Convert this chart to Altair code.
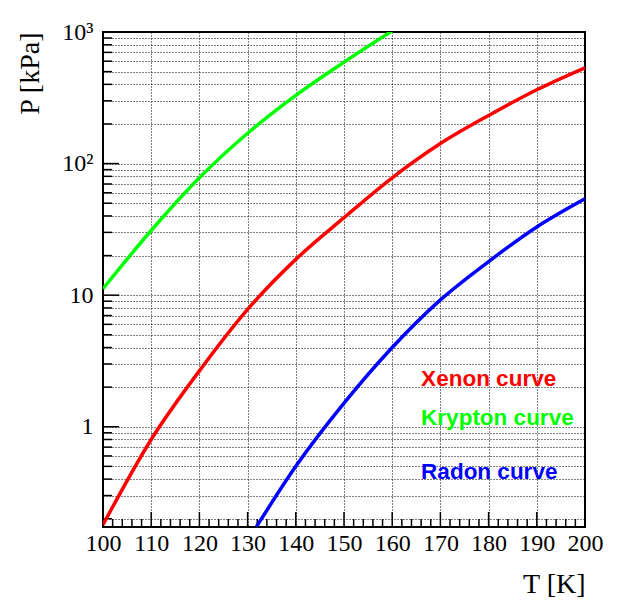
import altair as alt
import pandas as pd

# ---- data ----
T_xenon = [100, 110, 120, 130, 140, 150, 160, 170, 180, 190, 200]
P_xenon = [0.18, 0.80, 2.66, 7.8, 18.7, 38.8, 78, 142, 232, 364, 535]

T_krypton = [100, 110, 120, 130, 140, 150, 160]
P_krypton = [11.2, 31, 78, 170, 330, 590, 1020]

T_radon = [131.8, 140, 150, 160, 170, 180, 190, 200]
P_radon = [0.173, 0.50, 1.51, 4.0, 9.2, 18.0, 33, 54]

gases = ["Xenon", "Krypton", "Radon"]
gas_colors = ["#ff0000", "#00ff00", "#0000ff"]
label_texts = ["Xenon curve", "Krypton curve", "Radon curve"]
label_T = [166, 166, 166]
label_P = [2.30, 1.156, 0.455]

x_major = [100, 110, 120, 130, 140, 150, 160, 170, 180, 190, 200]
x_minor = [t for t in range(100, 201, 2) if t % 10 != 0]
y_major = [1, 10, 100, 1000]
y_minor = [m * d for d in [0.1, 1, 10, 100] for m in range(2, 10)]
y_grid = sorted(y_minor + y_major)

W, H = 482, 495

rows = []
for g, Ts, Ps in [("Xenon", T_xenon, P_xenon), ("Krypton", T_krypton, P_krypton), ("Radon", T_radon, P_radon)]:
    for t, p in zip(Ts, Ps):
        rows.append({"T": t, "P": p, "gas": g})
curves = pd.DataFrame(rows)
labels = pd.DataFrame({"T": label_T, "P": label_P, "gas": gases, "text": label_texts})

xscale = alt.Scale(domain=[100, 200], nice=False, zero=False)
yscale = alt.Scale(type="log", domain=[0.173, 1000], nice=False)
cscale = alt.Scale(domain=gases, range=gas_colors)

label_expr = ("abs(datum.value-1)<1e-6 ? '1' : abs(datum.value-10)<1e-6 ? '10' : "
              "abs(datum.value-100)<1e-6 ? '10²' : abs(datum.value-1000)<1e-6 ? '10³' : ''")

x_axis = alt.Axis(values=x_major, grid=True, gridDash=[1, 2], gridColor="black", gridWidth=1,
                  gridOpacity=1, ticks=False, tickSize=0, domain=False, labelPadding=4,
                  labelFont="Liberation Serif", labelFontSize=24, labelColor="black",
                  labelFlush=False, labelBound=False,
                  title="T [K]", titleFont="Liberation Serif", titleFontSize=28,
                  titleFontWeight="normal", titleColor="black", titleAnchor="end",
                  titleAlign="right", titleX=W, titleY=65, titleBaseline="alphabetic",
                  labelOverlap=False)
y_axis = alt.Axis(values=y_grid, grid=True, gridDash=[1, 2], gridColor="black", gridWidth=1,
                  gridOpacity=1, ticks=False, tickSize=0, domain=False, labelPadding=10,
                  labelExpr=label_expr, labelOverlap=False, labelBound=False, labelFlush=False,
                  labelFont="Liberation Serif", labelFontSize=24, labelColor="black",
                  labelBaseline="middle",
                  title="P [kPa]", titleFont="Liberation Serif", titleFontSize=28,
                  titleFontWeight="normal", titleColor="black", titleAnchor="end",
                  titleAlign="right", titleX=-65, titleY=0, titleBaseline="alphabetic",
                  titleAngle=270)

lines = alt.Chart(curves).mark_line(strokeWidth=3.5, clip=True, interpolate="monotone").encode(
    x=alt.X("T:Q", scale=xscale, axis=x_axis),
    y=alt.Y("P:Q", scale=yscale, axis=y_axis),
    color=alt.Color("gas:N", scale=cscale, legend=None),
    detail="gas:N",
)

ytick_major = alt.Chart(pd.DataFrame({"P": y_major})).mark_rule(color="black", strokeWidth=1.5).encode(
    y=alt.Y("P:Q", scale=yscale), x=alt.value(0), x2=alt.value(16))
ytick_minor = alt.Chart(pd.DataFrame({"P": y_minor})).mark_rule(color="black", strokeWidth=1.5).encode(
    y=alt.Y("P:Q", scale=yscale), x=alt.value(0), x2=alt.value(9))
xtick_major = alt.Chart(pd.DataFrame({"T": x_major})).mark_rule(color="black", strokeWidth=1.5).encode(
    x=alt.X("T:Q", scale=xscale), y=alt.value(H), y2=alt.value(H - 15))
xtick_minor = alt.Chart(pd.DataFrame({"T": x_minor})).mark_rule(color="black", strokeWidth=1.5).encode(
    x=alt.X("T:Q", scale=xscale), y=alt.value(H), y2=alt.value(H - 8))

texts = alt.Chart(labels).mark_text(align="left", baseline="middle", font="Liberation Sans",
                                     fontWeight="bold", fontSize=22.5).encode(
    x=alt.X("T:Q", scale=xscale), y=alt.Y("P:Q", scale=yscale), text="text:N",
    color=alt.Color("gas:N", scale=cscale, legend=None))

chart = alt.layer(ytick_minor, ytick_major, xtick_minor, xtick_major, lines, texts).properties(
    width=W, height=H,
    autosize=alt.AutoSizeParams(type="none"),
    padding={"left": 95, "top": 24, "right": 41, "bottom": 70},
    background="white",
).configure_view(stroke="black", strokeWidth=2)

chart.save("out.html", embed_options={"renderer": "svg", "actions": False})
